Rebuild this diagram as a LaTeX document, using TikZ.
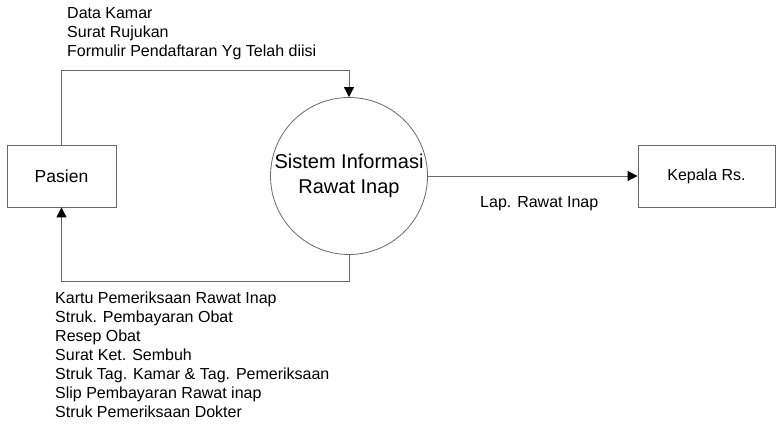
\documentclass[tikz,border=0pt]{standalone}
\usepackage{fontspec}
\setmainfont{Liberation Sans}
\usetikzlibrary{arrows.meta,positioning}
\definecolor{lineg}{RGB}{105,105,105}

\begin{document}
\begin{tikzpicture}[x=1pt,y=-1pt,
    ent/.style={draw=lineg,line width=0.8pt,minimum height=62pt,
                font=\fontsize{17.5}{21}\selectfont,inner sep=2pt},
    proc/.style={draw=lineg,circle,line width=0.8pt,minimum size=157pt,
                 font=\fontsize{20}{25}\selectfont,align=center,inner sep=0pt},
    arr/.style={draw=lineg,line width=0.8pt,
                -{Triangle[length=10pt,width=10pt,color=black]}},
    lbl/.style={font=\fontsize{16}{19}\selectfont,align=left,inner sep=0pt},
  ]
    \useasboundingbox (0,0) rectangle (778,446);
    % entitas dan proses
    \node[ent,minimum width=109pt](pasien) at (61.5,176){Pasien};
    \node[proc](sistem) at (349,176){Sistem Informasi\\Rawat Inap};
    \node[ent,minimum width=137pt,font=\fontsize{16}{19}\selectfont](kepala) at (706.5,176){Kepala Rs.};
    % aliran data
    \draw[arr](pasien.north)--++(0,-74)-|(sistem.north);
    \draw[arr](sistem.south)--++(0,26)-|(pasien.south);
    \draw[arr](sistem.east)--(kepala.west);
    \node[lbl,anchor=base west](lmasuk) at (67,57){Data Kamar\\Surat Rujukan\\Formulir Pendaftaran Yg Telah diisi};
    \node[lbl,anchor=base west](lkeluar) at (55,417){Kartu Pemeriksaan Rawat Inap\\Struk. Pembayaran Obat\\Resep Obat\\Surat Ket. Sembuh\\Struk Tag. Kamar \& Tag. Pemeriksaan\\Slip Pembayaran Rawat inap\\Struk Pemeriksaan Dokter};
    \node[lbl,anchor=base west](llap) at (480,208){Lap. Rawat Inap};
\end{tikzpicture}
\end{document}
